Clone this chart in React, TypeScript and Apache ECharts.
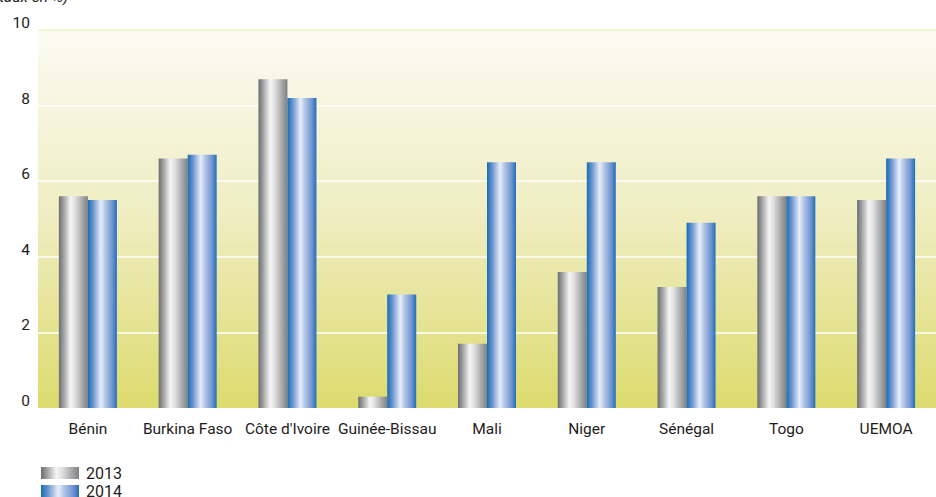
import React, { useEffect, useRef } from "react";
import * as echarts from "echarts";

// Pays de l'UEMOA et ensemble de l'Union
const categories = [
  "Bénin",
  "Burkina Faso",
  "Côte d'Ivoire",
  "Guinée-Bissau",
  "Mali",
  "Niger",
  "Sénégal",
  "Togo",
  "UEMOA",
];

// Taux en %
const values2013 = [5.6, 6.6, 8.7, 0.3, 1.7, 3.6, 3.2, 5.6, 5.5];
const values2014 = [5.5, 6.7, 8.2, 3.0, 6.5, 6.5, 4.9, 5.6, 6.6];

const yTicks = { min: 0, max: 10, interval: 2 };
const seriesNames = ["2013", "2014"];

const FONT = "Roboto, 'Liberation Sans', Arial, sans-serif";
const FONT_SIZE = 15.5;
const TEXT = "#1f1c1d";

const grayFill = new echarts.graphic.LinearGradient(0, 0, 1, 0, [
  { offset: 0, color: "#6c6d70" },
  { offset: 0.15, color: "#9c9d9f" },
  { offset: 0.4, color: "#f5f5f5" },
  { offset: 0.55, color: "#e1e1e2" },
  { offset: 0.8, color: "#a9aaac" },
  { offset: 1, color: "#7f8082" },
]);

const blueFill = new echarts.graphic.LinearGradient(0, 0, 1, 0, [
  { offset: 0, color: "#166db6" },
  { offset: 0.18, color: "#6a93ce" },
  { offset: 0.45, color: "#e8eef9" },
  { offset: 0.6, color: "#b3c6e7" },
  { offset: 0.85, color: "#6e92cf" },
  { offset: 1, color: "#1f6fb8" },
]);

const plotBackground = new echarts.graphic.LinearGradient(0, 0, 0, 1, [
  { offset: 0, color: "#fbfbf4" },
  { offset: 0.5, color: "#efedc0" },
  { offset: 1, color: "#dcdb6e" },
]);

// One legend entry per row, stacked in the bottom-left corner
const legendRow = (name: string, top: number) => ({
  orient: "horizontal",
  left: 41,
  top,
  padding: 0,
  itemWidth: 38,
  itemHeight: 12,
  icon: "rect",
  data: [name],
  textStyle: {
    fontFamily: FONT,
    fontSize: 16,
    color: TEXT,
    padding: [0, 0, 0, 2],
  },
});

export default function App() {
  const ref = useRef<HTMLDivElement>(null);

  useEffect(() => {
    if (!ref.current) return;
    const chart = echarts.init(ref.current, null, { renderer: "svg" });
    chart.setOption({
      animation: false,
      textStyle: { fontFamily: FONT },
      grid: {
        left: 38,
        right: -10,
        top: 30,
        bottom: 89,
        show: true,
        borderWidth: 0,
        backgroundColor: plotBackground,
        containLabel: false,
      },
      legend: [legendRow(seriesNames[0], 465), legendRow(seriesNames[1], 483)],
      graphic: [
        {
          type: "text",
          left: -6,
          top: -11,
          style: {
            text: "(taux en %)",
            font: `italic ${FONT_SIZE}px ${FONT}`,
            fill: TEXT,
          },
        },
      ],
      xAxis: {
        type: "category",
        data: categories,
        axisLine: { show: false },
        axisTick: { show: false },
        axisLabel: {
          fontSize: FONT_SIZE,
          color: TEXT,
          margin: 13,
          fontFamily: FONT,
          interval: 0,
        },
      },
      yAxis: {
        type: "value",
        min: yTicks.min,
        max: yTicks.max,
        interval: yTicks.interval,
        axisLine: { show: false },
        axisTick: { show: false },
        axisLabel: {
          fontSize: FONT_SIZE,
          color: TEXT,
          margin: 8,
          fontFamily: FONT,
          verticalAlign: "bottom",
          lineHeight: 16,
          padding: [0, 0, -1, 0],
        },
        splitLine: {
          lineStyle: {
            color: ["rgba(0,0,0,0)", "#ffffff", "#ffffff", "#ffffff", "#ffffff", "#eef0c4"],
            width: 1.5,
          },
        },
      },
      series: [
        {
          name: seriesNames[0],
          type: "bar",
          data: values2013,
          barWidth: 29,
          barGap: "0%",
          itemStyle: { color: grayFill },
        },
        {
          name: seriesNames[1],
          type: "bar",
          data: values2014,
          barWidth: 29,
          barGap: "0%",
          itemStyle: { color: blueFill },
        },
      ],
    });
    return () => chart.dispose();
  }, []);

  return (
    <div
      ref={ref}
      style={{ position: "fixed", left: 0, top: 0, width: 936, height: 497, background: "#ffffff" }}
    />
  );
}
